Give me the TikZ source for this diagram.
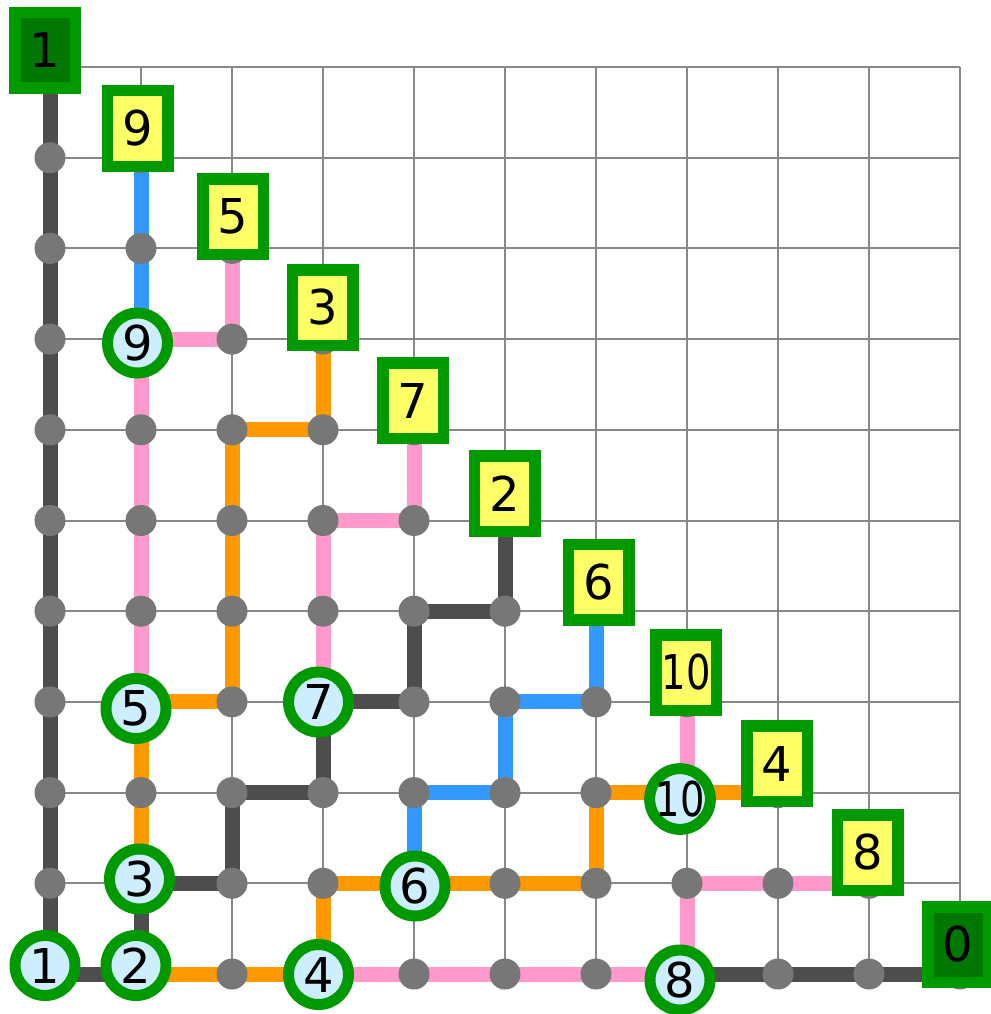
\documentclass[tikz,border=0pt]{standalone}
\usepackage{fontspec}
\setmainfont{DejaVu Sans}
\newfontfamily\digitfont{DejaVu Sans}
\definecolor{gridc}{HTML}{888888}
\definecolor{dotc}{HTML}{777777}
\definecolor{darkc}{HTML}{4D4D4D}
\definecolor{bluec}{HTML}{3399FF}
\definecolor{pinkc}{HTML}{FF99CC}
\definecolor{orangec}{HTML}{FF9900}
\definecolor{grn}{HTML}{009900}
\definecolor{dkgrn}{HTML}{007700}
\definecolor{ltblue}{HTML}{CCEEFF}
\definecolor{yel}{HTML}{FFFF66}
\tikzset{
  gridline/.style={draw=gridc, line width=2},
  wire/.style={line width=15, line cap=round, line join=miter},
  dotnode/.style={circle, fill=dotc, minimum size=31, inner sep=0},
  pin/.style={circle, draw=grn, fill=ltblue, line width=11, minimum size=60, inner sep=0, font=\digitfont\fontsize{48}{48}\selectfont},
  term/.style={rectangle, draw=grn, fill=yel, line width=11.5, minimum width=60.5, minimum height=75.5, inner sep=0, font=\digitfont\fontsize{48}{48}\selectfont},
  termdark/.style={term, fill=dkgrn},
}
\newcommand{\ten}{\scalebox{0.8}[1]{10}}
\begin{document}
\begin{tikzpicture}[x=1pt,y=-1pt]
\useasboundingbox (0,0) rectangle (990,1014);
\fill[white] (0,0) rectangle (990,1014);
\foreach \c in {0,...,10} \foreach \r in {0,...,10}
  \coordinate (p\c-\r) at ({50+91*\c},{67+90.7*\r});
% grid
\foreach \i in {0,...,10} {
  \draw[gridline] (p\i-0) -- (p\i-10);
  \draw[gridline] (p0-\i) -- (p10-\i);
}
% pink wires
\draw[wire,pinkc] (p1-7) -- (p1-3) -- (p2-3) -- (p2-2);
\draw[wire,pinkc] (p4-4) -- (p4-5) -- (p3-5) -- (p3-7);
\draw[wire,pinkc] (p7-7) -- (p7-8);
\draw[wire,pinkc] (p9-9) -- (p7-9) -- (p7-10) -- (p3-10);
% orange wires
\draw[wire,orangec] (p3-3) -- (p3-4) -- (p2-4) -- (p2-7) -- (p1-7) -- (p1-10) -- (p3-10) -- (p3-9) -- (p6-9) -- (p6-8) -- (p8-8);
% blue wires
\draw[wire,bluec] (p1-1) -- (p1-3);
\draw[wire,bluec] (p6-6) -- (p6-7) -- (p5-7) -- (p5-8) -- (p4-8) -- (p4-9);
% dark wires
\draw[wire,darkc] (p0-0) -- (p0-10) -- (p1-10) -- (p1-9) -- (p2-9) -- (p2-8) -- (p3-8) -- (p3-7) -- (p4-7) -- (p4-6) -- (p5-6) -- (p5-5);
\draw[wire,darkc] (p7-10) -- (p10-10);
% dots
\foreach \c in {0,...,10} \foreach \r in {\c,...,10}
  \node[dotnode] (d\c-\r) at (p\c-\r) {};
% pins (circles)
\node[pin] (c9) at (137.5,343) {9};
\node[pin] (c5) at (136,708.5) {5};
\node[pin] (c7) at (318.5,702) {7};
\node[pin] (c3) at (139.5,879) {3};
\node[pin] (c1) at (45,965.5) {1};
\node[pin] (c2) at (136,965.5) {2};
\node[pin] (c4) at (318.5,974.5) {4};
\node[pin] (c6) at (415,886) {6};
\node[pin] (c10) at (680,799) {\ten};
\node[pin] (c8) at (680,980) {8};
% terminals (squares)
\node[termdark] (s1) at (45,50.5) {1};
\node[term] (s9) at (137.5,128.5) {9};
\node[term] (s5) at (233,216.5) {5};
\node[term] (s3) at (322.5,307.5) {3};
\node[term] (s7) at (413,400.5) {7};
\node[term] (s2) at (504.5,493.5) {2};
\node[term] (s6) at (598.5,582) {6};
\node[term] (s10) at (686,672.5) {\ten};
\node[term] (s4) at (777,763.5) {4};
\node[term] (s8) at (867.5,852.5) {8};
\node[termdark] (s0) at (958,944.5) {0};
\end{tikzpicture}
\end{document}
